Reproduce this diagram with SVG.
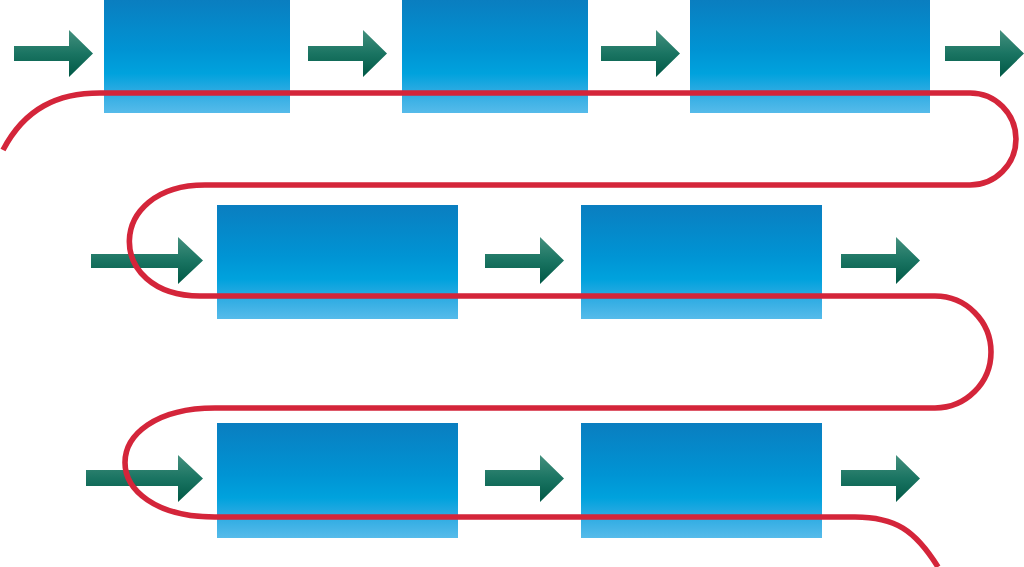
<svg xmlns="http://www.w3.org/2000/svg" width="1024" height="567" viewBox="0 0 1024 567">
<defs>
<linearGradient id="boxg" x1="0" y1="0" x2="0" y2="1">
<stop offset="0" stop-color="#0a7ec0"/>
<stop offset="0.45" stop-color="#0094d4"/>
<stop offset="0.65" stop-color="#00a2dd"/>
<stop offset="0.8" stop-color="#2aaae2"/>
<stop offset="1" stop-color="#56bbea"/>
</linearGradient>
<linearGradient id="arrg" x1="0" y1="0" x2="0" y2="1">
<stop offset="0" stop-color="#44907e"/>
<stop offset="0.5" stop-color="#1a7462"/>
<stop offset="1" stop-color="#005845"/>
</linearGradient>
<style>
.box{fill:url(#boxg);}
.arr{fill:url(#arrg);}
.flow{fill:none;stroke:#d4253a;stroke-width:5.6;stroke-linecap:butt;}
</style>
</defs>
<rect width="1024" height="567" fill="#ffffff"/>
<g id="nodes">
<g id="box1"><rect class="box" x="104" y="0" width="186" height="113"/></g>
<g id="box2"><rect class="box" x="402" y="0" width="186" height="113"/></g>
<g id="box3"><rect class="box" x="690" y="0" width="240" height="113"/></g>
<g id="box4"><rect class="box" x="217" y="205" width="241" height="114"/></g>
<g id="box5"><rect class="box" x="581" y="205" width="241" height="114"/></g>
<g id="box6"><rect class="box" x="217" y="423" width="241" height="115"/></g>
<g id="box7"><rect class="box" x="581" y="423" width="241" height="115"/></g>
</g>
<g id="connectors">
<path class="arr" d="M14 46 H69 V30 L93 53.5 L69 77 V61 H14 Z"/>
<path class="arr" d="M308 46 H363 V30 L387 53.5 L363 77 V61 H308 Z"/>
<path class="arr" d="M601 46 H656 V30 L680 53.5 L656 77 V61 H601 Z"/>
<path class="arr" d="M945 46 H1000 V30 L1024 53.5 L1000 77 V61 H945 Z"/>
<path class="arr" d="M91 254 H178 V237 L203 260.5 L178 284 V268 H91 Z"/>
<path class="arr" d="M485 254 H540 V237 L564 260.5 L540 284 V268 H485 Z"/>
<path class="arr" d="M841 254 H896 V237 L920 260.5 L896 284 V268 H841 Z"/>
<path class="arr" d="M86 470 H178 V455 L203 478.5 L178 502 V486 H86 Z"/>
<path class="arr" d="M485 470 H540 V455 L564 478.5 L540 502 V486 H485 Z"/>
<path class="arr" d="M841 470 H896 V455 L920 478.5 L896 502 V486 H841 Z"/>
<path class="flow" d="M3 150 C25 108 58 93 100 93 L970 93 A46 46 0 0 1 970 185 L205 185 C105 185 105 296 200 296 L935 296 A56 56 0 0 1 935 408 L215 408 C95 408 95 517 215 517 L855 517 C895 517 915 530 938 567"/>
</g>
</svg>
